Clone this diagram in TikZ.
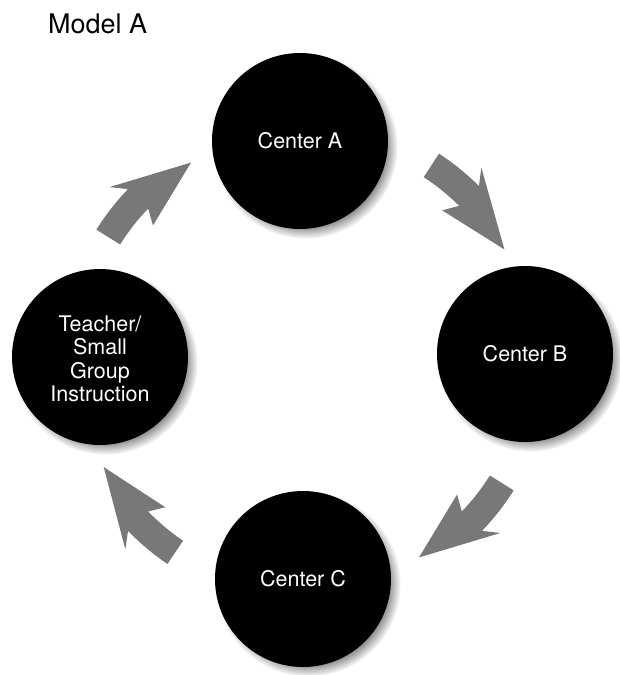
\documentclass[tikz,border=0pt]{standalone}
\usepackage{fontspec}
\setmainfont{TeX Gyre Heros}
\usetikzlibrary{calc,shadows}
\definecolor{arrowgray}{gray}{0.47}
\tikzset{
  centerdisc/.style={circle, fill=black, minimum size=176pt, inner sep=0pt,
    text=white, align=center, font=\fontsize{21.5}{23.5}\selectfont,
    circular drop shadow={shadow xshift=5pt, shadow yshift=-5pt, shadow scale=1.05, opacity=0.7, fill=black!70}},
  blockarrow/.style={fill=arrowgray, draw=none}
}
\newcommand{\cyclearrow}[1]{%
  \fill[blockarrow]
    ($(O)+(#1:246)$) arc[start angle=#1, end angle=#1-12, radius=246pt]
    -- ($(O)+(#1-9.5:261)$)
    -- ($(O)+(#1-28:228)$)
    -- ($(O)+(#1-9.5:203)$)
    -- ($(O)+(#1-12:218)$) arc[start angle=#1-12, end angle=#1, radius=218pt]
    -- cycle;}
\begin{document}
\begin{tikzpicture}[x=1pt,y=1pt]
  \useasboundingbox (0,0) rectangle (619,-675);
  \node[anchor=base west, font=\fontsize{27}{30}\selectfont, inner sep=0pt] (title) at (48,-33) {Model A};
  \node[centerdisc] (A) at (300,-141) {Center A};
  \node[centerdisc] (B) at (525,-354) {Center B};
  \node[centerdisc] (C) at (303,-579) {Center C};
  \node[centerdisc] (T) at (100,-357) {\\[-4pt]Teacher/\\Small\\Group\\Instruction};
  \coordinate (O) at (305,-360);
  % arrows T->A, A->B, B->C, C->T
  \cyclearrow{148}
  \cyclearrow{57}
  \cyclearrow{-32}
  \cyclearrow{236}
\end{tikzpicture}
\end{document}
